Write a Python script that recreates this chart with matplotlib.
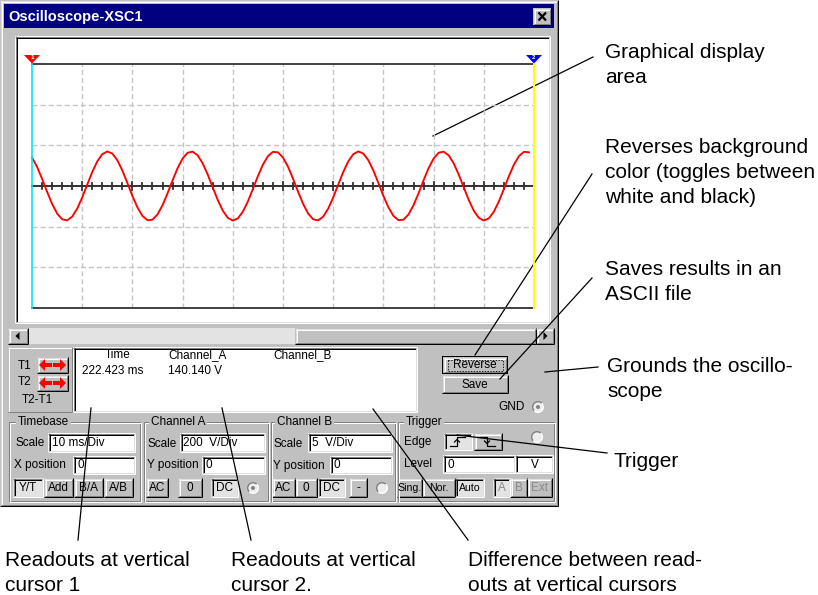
import matplotlib
matplotlib.use("Agg")
import matplotlib.pyplot as plt
from matplotlib.patches import Rectangle, Polygon, Circle, Wedge

plt.rcParams['lines.scale_dashes'] = False
plt.rcParams['font.family'] = ['Liberation Sans', 'DejaVu Sans']

# ------------------------------------------------------------------ data
window_title = "Oscilloscope-XSC1"
time_ms = list(range(100))
channel_a_v = [
    140.1, 94.6, 35.9, -27.8, -87.6, -135.0, -163.6, -169.1, -150.9, -111.5,
    -56.5, 6.5, 68.6, 121.0, 156.5, 170.0, 159.5, 126.7, 76.1, 14.8,
    -48.6, -105.1, -146.9, -168.1, -165.6, -140.1, -94.6, -35.9, 27.8, 87.6,
    135.0, 163.6, 169.1, 150.9, 111.5, 56.5, -6.5, -68.6, -121.0, -156.5,
    -170.0, -159.5, -126.7, -76.1, -14.8, 48.6, 105.1, 146.9, 168.1, 165.6,
    140.1, 94.6, 35.9, -27.8, -87.6, -135.0, -163.6, -169.1, -150.9, -111.5,
    -56.5, 6.5, 68.6, 121.0, 156.5, 170.0, 159.5, 126.7, 76.1, 14.8,
    -48.6, -105.1, -146.9, -168.1, -165.6, -140.1, -94.6, -35.9, 27.8, 87.6,
    135.0, 163.6, 169.1, 150.9, 111.5, 56.5, -6.5, -68.6, -121.0, -156.5,
    -170.0, -159.5, -126.7, -76.1, -14.8, 48.6, 105.1, 146.9, 168.1, 165.6,
]
time_range_ms = [0, 100]
volt_range_v = [-600, 600]
grid_x_ms = [10, 20, 30, 40, 50, 60, 70, 80, 90]
grid_y_v = [-400, -200, 200, 400]
minor_tick_ms = [2, 4, 6, 8, 12, 14, 16, 18, 22, 24, 26, 28, 32, 34, 36, 38, 42, 44, 46, 48,
                 52, 54, 56, 58, 62, 64, 66, 68, 72, 74, 76, 78, 82, 84, 86, 88, 92, 94, 96, 98]

readout_headers = ["Time", "Channel_A", "Channel_B"]
readout_t1 = ["222.423 ms", "140.140 V"]
cursor_rows = ["T1", "T2", "T2-T1"]
group_titles = ["Timebase", "Channel A", "Channel B", "Trigger"]
timebase_scale = "10 ms/Div"
chan_a_scale = "200  V/Div"
chan_b_scale = "5  V/Div"
timebase_buttons = ["Y/T", "Add", "B/A", "A/B"]
channel_buttons_a = ["AC", "0", "DC"]
channel_buttons_b = ["AC", "0", "DC", "-"]
trigger_buttons = ["Sing.", "Nor.", "Auto"]
trigger_sources = ["A", "B", "Ext"]

callouts_right = [
    ["Graphical display", "area"],
    ["Reverses background", "color (toggles between", "white and black)"],
    ["Saves results in an", "ASCII file"],
    ["Grounds the oscillo-", "scope"],
    ["Trigger"],
]
callouts_bottom = [
    ["Readouts at vertical", "cursor 1"],
    ["Readouts at vertical", "cursor 2."],
    ["Difference between read-", "outs at vertical cursors"],
]

# ------------------------------------------------------------------ style
FACE = '#c0c0c0'
LIGHT = '#dfdfdf'
WHITE = '#ffffff'
SHADOW = '#808080'
BLACK = '#000000'
DITHER = '#e3e3e3'
NAVY = '#000080'
UIF = 8.5
PX = 0.72

W, H = 818, 595
fig = plt.figure(figsize=(W / 100, H / 100), dpi=100)
fig.patch.set_facecolor('white')
ax = fig.add_axes([0, 0, 1, 1])
ax.set_xlim(0, W)
ax.set_ylim(H, 0)
ax.axis('off')


def hl(x0, x1, y, c, lw=1, z=3, **kw):
    ax.plot([x0, x1], [y, y], color=c, lw=lw * PX, solid_capstyle='butt', zorder=z, **kw)


def vl(x, y0, y1, c, lw=1, z=3, **kw):
    ax.plot([x, x], [y0, y1], color=c, lw=lw * PX, solid_capstyle='butt', zorder=z, **kw)


def rect(x0, y0, x1, y1, fc, z=2):
    ax.add_patch(Rectangle((x0, y0), x1 - x0, y1 - y0, fc=fc, ec='none', lw=0, zorder=z))


def bevel(x0, y0, x1, y1, raised=True, face=FACE, z=2, thick=2):
    rect(x0, y0, x1, y1, face, z)
    if raised:
        otl, obr, itl, ibr = LIGHT, BLACK, WHITE, SHADOW
        if thick == 1:
            otl, obr = WHITE, SHADOW
    else:
        otl, obr, itl, ibr = SHADOW, WHITE, BLACK, LIGHT
    hl(x0, x1, y0 + .5, otl, z=z + .1)
    vl(x0 + .5, y0, y1, otl, z=z + .1)
    hl(x0, x1, y1 - .5, obr, z=z + .1)
    vl(x1 - .5, y0, y1, obr, z=z + .1)
    if thick == 2:
        hl(x0 + 1, x1 - 1, y0 + 1.5, itl, z=z + .1)
        vl(x0 + 1.5, y0 + 1, y1 - 1, itl, z=z + .1)
        hl(x0 + 1, x1 - 1, y1 - 1.5, ibr, z=z + .1)
        vl(x1 - 1.5, y0 + 1, y1 - 1, ibr, z=z + .1)


def txt(x, y, s, size=UIF, ha='left', va='center', color='black', z=6, **kw):
    ax.text(x, y, s, fontsize=size, ha=ha, va=va, color=color, zorder=z, **kw)


def button(x0, y0, x1, y1, label, pressed=False, color='black', size=UIF):
    bevel(x0, y0, x1, y1, raised=not pressed, face=DITHER if pressed else FACE)
    txt((x0 + x1) / 2, (y0 + y1) / 2 + 0.5, label, ha='center', color=color, size=size)


def entry(x0, y0, x1, y1, s, tx=None):
    bevel(x0, y0, x1, y1, raised=False, face=WHITE)
    if s:
        txt(tx if tx is not None else x0 + 4, (y0 + y1) / 2 + .5, s)


def radio(cx, cy, dot=False):
    ax.add_patch(Wedge((cx, cy), 6, 135, 315, fc=SHADOW, ec='none', zorder=4))
    ax.add_patch(Wedge((cx, cy), 6, 315, 495, fc=WHITE, ec='none', zorder=4))
    ax.add_patch(Circle((cx, cy), 4.6, fc='#ededed', ec='none', zorder=4.1))
    if dot:
        ax.add_patch(Circle((cx, cy), 2.0, fc=SHADOW, ec='none', zorder=4.2))


def group(x0, y0, x1, y1, label, lx):
    ax.add_patch(Rectangle((x0 + .5, y0 + .5), x1 - x0 - 2, y1 - y0 - 2, fill=False,
                           ec=SHADOW, lw=PX, zorder=3))
    ax.add_patch(Rectangle((x0 + 1.5, y0 + 1.5), x1 - x0 - 2, y1 - y0 - 2, fill=False,
                           ec=WHITE, lw=PX, zorder=3))
    txt(lx, y0 + 1, label, bbox=dict(fc=FACE, ec='none', pad=1.2))


# ------------------------------------------------------------------ window
bevel(0, 0, 558, 506, raised=True)
rect(4, 4, 554, 28, NAVY, z=3)
txt(8, 16.5, window_title, size=10.5, color='white', weight='bold')
bevel(533, 8, 551, 25, raised=True, z=4)
ax.plot([538.5, 546], [12.5, 20.5], color=BLACK, lw=1.6, zorder=6, solid_capstyle='butt')
ax.plot([546, 538.5], [12.5, 20.5], color=BLACK, lw=1.6, zorder=6, solid_capstyle='butt')

# display frame
bevel(15, 36, 550, 323, raised=False, face=WHITE)

# scrollbar
rect(8, 328, 554, 344, DITHER)
bevel(8, 328, 28, 344, raised=True)
ax.add_patch(Polygon([(15.5, 336), (19.5, 332), (19.5, 340)], fc=BLACK, ec='none', zorder=5))
bevel(295, 328, 536, 344, raised=True)
bevel(536, 328, 554, 344, raised=True)
ax.add_patch(Polygon([(547.5, 336), (543.5, 332), (543.5, 340)], fc=BLACK, ec='none', zorder=5))

# ------------------------------------------------------------------ scope screen
L, R, T, B = 32, 534, 64, 308
axs = fig.add_axes([L / W, 1 - B / H, (R - L) / W, (B - T) / H], zorder=5)
axs.set_xlim(*time_range_ms)
axs.set_ylim(*volt_range_v)
axs.axis('off')
axs.patch.set_alpha(0)
for gx in grid_x_ms:
    axs.plot([gx, gx], volt_range_v, color='#c4c4c4', lw=1.0, dashes=(3.6, 2.2), clip_on=False)
for gy in grid_y_v:
    axs.plot(time_range_ms, [gy, gy], color='#c4c4c4', lw=1.0, dashes=(3.6, 2.2), clip_on=False)
axs.plot(time_range_ms, [0, 0], color='#303030', lw=1.4, clip_on=False)
for mt in minor_tick_ms:
    axs.plot([mt, mt], [-13, 13], color='#303030', lw=1.3, clip_on=False)
for gx in grid_x_ms:
    axs.plot([gx, gx], [-22, 22], color='#303030', lw=1.3, clip_on=False)
axs.plot(time_range_ms, [volt_range_v[1]] * 2, color='#404040', lw=1.4, clip_on=False)
axs.plot(time_range_ms, [volt_range_v[0]] * 2, color='#404040', lw=1.4, clip_on=False)
axs.plot(time_ms, channel_a_v, color='#ff0000', lw=1.35, clip_on=False, zorder=5)
axs.plot([time_range_ms[0]] * 2, volt_range_v, color='#00e8f0', lw=1.2, clip_on=False, zorder=6)
axs.plot([time_range_ms[1]] * 2, volt_range_v, color='#ffff00', lw=1.4, clip_on=False, zorder=6)

# cursor flags
ax.add_patch(Polygon([(24, 55), (40, 55), (32, 63.5)], fc='#ff0000', ec='none', zorder=7))
ax.add_patch(Polygon([(526, 55), (542, 55), (534, 63.5)], fc='#0000ff', ec='none', zorder=7))
txt(32, 57.6, "1", size=4.5, ha='center', color='white', weight='bold', z=8)
txt(534, 57.6, "2", size=4.5, ha='center', color='white', weight='bold', z=8)

# ------------------------------------------------------------------ cursor/readout panel
bevel(8, 347, 72, 412, raised=True, thick=1)
row_y = [366, 382, 400]
row_x = [18, 18, 22]
for s, yy, xx in zip(cursor_rows, row_y, row_x):
    txt(xx, yy, s)
for (y0, y1) in [(357, 373), (375, 391)]:
    bevel(37, y0, 68, y1, raised=True)
    cy = (y0 + y1) / 2
    ax.add_patch(Polygon([(39, cy), (45, cy - 6), (45, cy + 6)], fc='#ff0000', ec='none', zorder=5))
    rect(45, cy - 2, 52, cy + 2, '#ff0000', z=5)
    ax.add_patch(Polygon([(66, cy), (60, cy - 6), (60, cy + 6)], fc='#ff0000', ec='none', zorder=5))
    rect(53, cy - 2, 60, cy + 2, '#ff0000', z=5)

bevel(73, 347, 417, 412, raised=False, face=WHITE)
txt(118, 355, readout_headers[0], ha='center')
txt(168, 355, readout_headers[1])
txt(273, 355, readout_headers[2])
txt(82, 371, readout_t1[0])
txt(168, 371, readout_t1[1])

# Reverse / Save / GND
rect(442, 356, 508, 374, BLACK, z=2)
bevel(443, 357, 507, 373, raised=True, z=2.5)
ax.add_patch(Rectangle((447.5, 359.5), 55, 11, fill=False, ec=BLACK, lw=0.6,
                       ls=(0, (1, 1)), zorder=6))
txt(475, 365.5, "Reverse", ha='center')
bevel(442, 375, 508, 393, raised=True)
txt(475, 384.5, "Save", ha='center')
txt(525, 407, "GND", ha='right')
radio(538, 407, dot=True)

# ------------------------------------------------------------------ group boxes
GY0, GY1 = 421, 502
group(8, GY0, 141, GY1, group_titles[0], 18)
group(143, GY0, 269, GY1, group_titles[1], 151)
group(270, GY0, 396, GY1, group_titles[2], 277)
group(397, GY0, 555, GY1, group_titles[3], 406)

# Timebase
txt(15, 443, "Scale")
entry(48, 433, 135, 452, timebase_scale, 52)
txt(14, 465, "X position")
entry(73, 456, 135, 474, "0", 77)
tb_x = [(13, 43), (44, 73), (74, 103), (104, 133)]
for (x0, x1), lab, pr in zip(tb_x, timebase_buttons, [True, False, False, False]):
    button(x0, 478, x1, 497, lab, pressed=pr)

# Channel A
txt(147, 444, "Scale")
entry(180, 433, 265, 452, chan_a_scale, 183)
txt(147, 465, "Y position")
entry(202, 456, 265, 474, "0", 205)
ca_x = [(146, 168), (178, 202), (211, 238)]
for (x0, x1), lab, pr in zip(ca_x, channel_buttons_a, [False, False, True]):
    button(x0, 478, x1, 497, lab, pressed=pr)
radio(253, 488, dot=True)

# Channel B
txt(273, 444, "Scale")
entry(308, 433, 392, 452, chan_b_scale, 312)
txt(273, 466, "Y position")
entry(330, 456, 392, 474, "0", 334)
cb_x = [(272, 295), (295, 317), (318, 345), (349, 367)]
for (x0, x1), lab, pr in zip(cb_x, channel_buttons_b, [False, False, True, False]):
    button(x0, 478, x1, 497, lab, pressed=pr)
radio(382, 488)

# Trigger
txt(404, 442, "Edge")
bevel(444, 433, 472, 450, raised=False, face=DITHER)
ax.plot([450, 457, 457, 465], [446, 446, 437, 437], color=BLACK, lw=0.9, zorder=6)
ax.plot([454.5, 457, 459.5], [442, 439.5, 442], color=BLACK, lw=0.9, zorder=6)
bevel(474, 433, 502, 450, raised=True)
ax.plot([480, 487, 487, 495], [437, 437, 446, 446], color=BLACK, lw=0.9, zorder=6)
ax.plot([484.5, 487, 489.5], [441, 443.5, 441], color=BLACK, lw=0.9, zorder=6)
radio(537, 437)
txt(404, 464, "Level")
entry(443, 455, 515, 473, "0", 447)
entry(515, 455, 553, 473, "")
txt(535, 464.5, "V", ha='center')
tr_x = [(397, 422), (422, 455), (455, 484)]
for (x0, x1), lab, pr in zip(tr_x, trigger_buttons, [False, False, True]):
    button(x0, 478, x1, 497, lab, pressed=pr, size=7.6)
ts_x = [(493, 510), (510, 527), (527, 552)]
for (x0, x1), lab, pr in zip(ts_x, trigger_sources, [True, False, False]):
    button(x0, 478, x1, 497, lab, pressed=pr, color='#8a8a8a')

# ------------------------------------------------------------------ callouts
CF = 15
right_pos = [(605, 58), (605, 153), (605, 275), (607, 372), (613, 467)]
for lines, (x, y) in zip(callouts_right, right_pos):
    for i, s in enumerate(lines):
        txt(x, y + 25 * i, s, size=CF, va='baseline', z=8)
bottom_pos = [(5, 566), (231, 566), (468, 566)]
for lines, (x, y) in zip(callouts_bottom, bottom_pos):
    for i, s in enumerate(lines):
        txt(x, y + 25 * i, s, size=CF, va='baseline', z=8)

leaders = [((433, 136), (593, 57)),
           ((475, 355), (592, 174)),
           ((500, 379), (592, 278)),
           ((545, 372), (598, 367)),
           ((457, 435), (607, 453)),
           ((91, 408), (78, 540)),
           ((222, 408), (251, 540)),
           ((373, 409), (468, 540))]
for (p0, p1) in leaders:
    ax.plot([p0[0], p1[0]], [p0[1], p1[1]], color=BLACK, lw=0.9, zorder=9)

fig.savefig("out.png", dpi=100, facecolor='white')
